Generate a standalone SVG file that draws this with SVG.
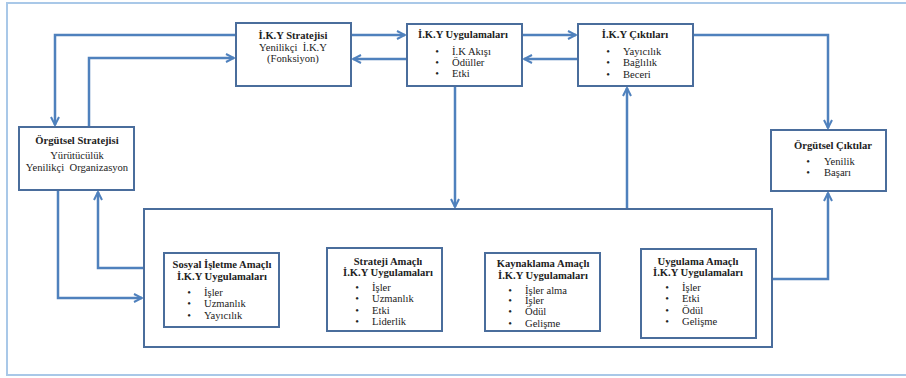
<svg xmlns="http://www.w3.org/2000/svg" width="906" height="378" viewBox="0 0 906 378">
<style>
.box{fill:#fff;stroke:#4a6d9c;stroke-width:2}
.con{fill:none;stroke:#4f81bd;stroke-width:2.5}
text{font-family:"Liberation Serif","Times New Roman",serif;font-size:10.6px;fill:#222}
.t{font-weight:bold;text-anchor:middle}
.c{text-anchor:middle}
.b{text-anchor:middle}
</style>
<defs>
<marker id="ah" viewBox="0 0 10 10" refX="9" refY="5" markerWidth="4" markerHeight="4" orient="auto" markerUnits="strokeWidth">
<path d="M1,1 L9,5 L1,9" fill="none" stroke="#4f81bd" stroke-width="2"/>
</marker>
</defs>
<rect x="7" y="3" width="902" height="372" fill="#fff" stroke="#a9c8e8" stroke-width="2"/>
<g id="connectors">
<path class="con" d="M236,35 H55 V125" marker-end="url(#ah)"/>
<path class="con" d="M89,127 V58 H234" marker-end="url(#ah)"/>
<path class="con" d="M351,35 H405" marker-end="url(#ah)"/>
<path class="con" d="M407,59 H353" marker-end="url(#ah)"/>
<path class="con" d="M522,35 H576" marker-end="url(#ah)"/>
<path class="con" d="M578,59 H524" marker-end="url(#ah)"/>
<path class="con" d="M455,86 V207" marker-end="url(#ah)"/>
<path class="con" d="M627,209 V88" marker-end="url(#ah)"/>
<path class="con" d="M693,35 H828 V128" marker-end="url(#ah)"/>
<path class="con" d="M772,279 H828 V193" marker-end="url(#ah)"/>
<path class="con" d="M58,190 V298 H142" marker-end="url(#ah)"/>
<path class="con" d="M144,268 H98 V192" marker-end="url(#ah)"/>
</g>
<g id="iky-stratejisi">
<rect class="box" x="236" y="23" width="115" height="63"/>
<text class="t" x="293" y="39">İ.K.Y Stratejisi</text>
<text class="c" x="293" y="51" xml:space="preserve">Yenilikçi  İ.K.Y</text>
<text class="c" x="293" y="62">(Fonksiyon)</text>
</g>
<g id="iky-uygulamalari">
<rect class="box" x="407" y="24" width="115" height="62"/>
<text class="t" x="463" y="38">İ.K.Y Uygulamaları</text>
<text class="b" x="437" y="55">•</text><text x="452" y="55">İ.K Akışı</text>
<text class="b" x="437" y="66">•</text><text x="452" y="66">Ödüller</text>
<text class="b" x="437" y="77">•</text><text x="452" y="77">Etki</text>
</g>
<g id="iky-ciktilari">
<rect class="box" x="578" y="24" width="115" height="62"/>
<text class="t" x="635" y="38">İ.K.Y Çıktıları</text>
<text class="b" x="608" y="55">•</text><text x="623" y="55">Yayıcılık</text>
<text class="b" x="608" y="66">•</text><text x="623" y="66">Bağlılık</text>
<text class="b" x="608" y="78">•</text><text x="623" y="78">Beceri</text>
</g>
<g id="orgutsel-stratejisi">
<rect class="box" x="19" y="127" width="115" height="63"/>
<text class="t" x="77" y="144">Örgütsel Stratejisi</text>
<text class="c" x="77" y="159">Yürütücülük</text>
<text class="c" x="77" y="171" xml:space="preserve">Yenilikçi  Organizasyon</text>
</g>
<g id="orgutsel-ciktilar">
<rect class="box" x="771" y="130" width="115" height="61"/>
<text class="t" x="833" y="149">Örgütsel Çıktılar</text>
<text class="b" x="808" y="165">•</text><text x="824" y="165">Yenilik</text>
<text class="b" x="808" y="176">•</text><text x="824" y="176">Başarı</text>
</g>
<g id="uygulamalar-grubu">
<rect class="box" x="144" y="209" width="628" height="138"/>
</g>
<g id="sosyal">
<rect class="box" x="164" y="253" width="115" height="74"/>
<text class="t" x="222" y="268">Sosyal İşletme Amaçlı</text>
<text class="t" x="222" y="280">İ.K.Y Uygulamaları</text>
<text class="b" x="189" y="296">•</text><text x="204" y="296">İşler</text>
<text class="b" x="189" y="307">•</text><text x="204" y="307">Uzmanlık</text>
<text class="b" x="189" y="319">•</text><text x="204" y="319">Yayıcılık</text>
</g>
<g id="strateji">
<rect class="box" x="327" y="248" width="115" height="83"/>
<text class="t" x="388" y="265">Strateji Amaçlı</text>
<text class="t" x="388" y="276">İ.K.Y Uygulamaları</text>
<text class="b" x="357" y="291">•</text><text x="372" y="291">İşler</text>
<text class="b" x="357" y="302">•</text><text x="372" y="302">Uzmanlık</text>
<text class="b" x="357" y="314">•</text><text x="372" y="314">Etki</text>
<text class="b" x="357" y="325">•</text><text x="372" y="325">Liderlik</text>
</g>
<g id="kaynaklama">
<rect class="box" x="485" y="253" width="115" height="78"/>
<text class="t" x="543" y="267">Kaynaklama Amaçlı</text>
<text class="t" x="543" y="279">İ.K.Y Uygulamaları</text>
<text class="b" x="510" y="294">•</text><text x="525" y="294">İşler alma</text>
<text class="b" x="510" y="304">•</text><text x="525" y="304">İşler</text>
<text class="b" x="510" y="315">•</text><text x="525" y="315">Ödül</text>
<text class="b" x="510" y="327">•</text><text x="525" y="327">Gelişme</text>
</g>
<g id="uygulama">
<rect class="box" x="641" y="249" width="115" height="89"/>
<text class="t" x="698" y="265">Uygulama Amaçlı</text>
<text class="t" x="698" y="276">İ.K.Y Uygulamaları</text>
<text class="b" x="667" y="291">•</text><text x="682" y="291">İşler</text>
<text class="b" x="667" y="302">•</text><text x="682" y="302">Etki</text>
<text class="b" x="667" y="314">•</text><text x="682" y="314">Ödül</text>
<text class="b" x="667" y="325">•</text><text x="682" y="325">Gelişme</text>
</g>
</svg>
